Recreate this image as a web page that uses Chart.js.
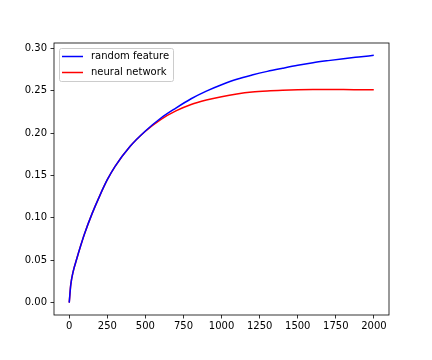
<!DOCTYPE html>
<html>
<head>
<meta charset="utf-8">
<script src="https://cdn.jsdelivr.net/npm/chart.js@4/dist/chart.umd.min.js"></script>
<style>
html,body{margin:0;padding:0;background:#fff;}
#wrap{width:432px;height:360px;}
</style>
</head>
<body>
<div id="wrap"><canvas id="c" width="432" height="360"></canvas></div>
<script>
const steps = [0, 10, 25, 50, 75, 100, 150, 200, 250, 300, 400, 500, 600, 700, 800, 900, 1000, 1100, 1200, 1300, 1400, 1500, 1600, 1700, 1800, 1900, 1999];
const randomFeature = [0, 0.021, 0.036, 0.052, 0.067, 0.081, 0.105, 0.126, 0.145, 0.1605, 0.1845, 0.2025, 0.2175, 0.2295, 0.2405, 0.2495, 0.257, 0.2635, 0.2685, 0.2728, 0.2765, 0.28, 0.283, 0.2855, 0.2878, 0.2898, 0.2917];
const neuralNetwork = [0, 0.021, 0.036, 0.052, 0.067, 0.081, 0.105, 0.126, 0.145, 0.1605, 0.1845, 0.2022, 0.2160, 0.2262, 0.2338, 0.2390, 0.2430, 0.2462, 0.2485, 0.2498, 0.2506, 0.2511, 0.2514, 0.2515, 0.2514, 0.2512, 0.251];
const seriesNames = ['random feature', 'neural network'];
const xTicks = [0, 250, 500, 750, 1000, 1250, 1500, 1750, 2000];
const yTicks = [0, 0.05, 0.10, 0.15, 0.20, 0.25, 0.30];

const toPts = arr => steps.map((x, i) => ({x: x, y: arr[i]}));

const frame = {
  id: 'frame',
  afterDatasetsDraw(chart) {
    const {ctx, chartArea: a} = chart;
    ctx.save();
    ctx.strokeStyle = '#000';
    ctx.lineWidth = 0.8;
    ctx.strokeRect(a.left, a.top, a.right - a.left, a.bottom - a.top);
    // legend
    const lx = a.left + 5, ly = a.top + 5, lw = 114, lh = 33;
    ctx.fillStyle = 'rgba(255,255,255,0.8)';
    ctx.strokeStyle = '#cccccc';
    ctx.lineWidth = 1;
    ctx.beginPath();
    if (ctx.roundRect) ctx.roundRect(lx + 0.5, ly + 0.5, lw, lh, 2); else ctx.rect(lx + 0.5, ly + 0.5, lw, lh);
    ctx.fill();
    ctx.stroke();
    ctx.font = '10px "DejaVu Sans"';
    ctx.textBaseline = 'middle';
    chart.data.datasets.forEach((ds, i) => {
      const yy = ly + 8.5 + i * 16;
      ctx.strokeStyle = ds.borderColor;
      ctx.lineWidth = 1.5;
      ctx.beginPath();
      ctx.moveTo(lx + 3, yy);
      ctx.lineTo(lx + 24, yy);
      ctx.stroke();
      ctx.fillStyle = '#000';
      ctx.fillText(ds.label, lx + 32, yy);
    });
    ctx.restore();
  }
};

new Chart(document.getElementById('c'), {
  type: 'line',
  data: {
    datasets: [
      {label: seriesNames[0], data: toPts(randomFeature), borderColor: '#0000ff', borderWidth: 1.5, pointRadius: 0, cubicInterpolationMode: 'monotone', fill: false},
      {label: seriesNames[1], data: toPts(neuralNetwork), borderColor: '#ff0000', borderWidth: 1.5, pointRadius: 0, cubicInterpolationMode: 'monotone', fill: false}
    ]
  },
  options: {
    responsive: false,
    animation: false,
    devicePixelRatio: 1,
    layout: {padding: {left: 0, right: 43, top: 43, bottom: 0}},
    plugins: {legend: {display: false}, tooltip: {enabled: false}},
    scales: {
      x: {
        type: 'linear',
        min: -99.95, max: 2098.95,
        afterBuildTicks: s => { s.ticks = xTicks.map(v => ({value: v})); },
        afterFit: s => { s.height = 45; },
        border: {display: false},
        grid: {display: true, drawOnChartArea: false, drawTicks: true, tickLength: 3.5, tickColor: '#000', tickWidth: 0.8},
        ticks: {color: '#000', font: {family: 'DejaVu Sans', size: 10}, padding: 2, maxRotation: 0, autoSkip: false, callback: v => String(v)}
      },
      y: {
        type: 'linear',
        min: -0.014585, max: 0.306285,
        afterBuildTicks: s => { s.ticks = yTicks.map(v => ({value: v})); },
        afterFit: s => { s.width = 54; },
        border: {display: false},
        grid: {display: true, drawOnChartArea: false, drawTicks: true, tickLength: 3.5, tickColor: '#000', tickWidth: 0.8},
        ticks: {color: '#000', font: {family: 'DejaVu Sans', size: 10}, padding: 3.5, autoSkip: false, callback: v => v.toFixed(2)}
      }
    }
  },
  plugins: [frame]
});
</script>
</body>
</html>
